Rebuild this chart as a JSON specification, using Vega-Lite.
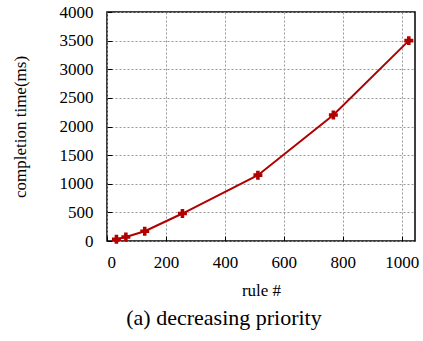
{
  "$schema": "https://vega.github.io/schema/vega-lite/v6.json",
  "autosize": "none",
  "width": 308,
  "height": 229,
  "padding": {"left": 107, "top": 12, "right": 8, "bottom": 100},
  "background": "white",
  "title": {"text": "(a) decreasing priority", "orient": "bottom", "anchor": "middle", "frame": "group", "dx": -37, "font": "Times New Roman, Liberation Serif, serif", "fontSize": 22, "fontWeight": "normal", "color": "black", "offset": 10},
  "config": {
    "view": {"stroke": "black", "strokeWidth": 1.5},
    "axis": {
      "labelFont": "Times New Roman, Liberation Serif, serif", "labelFontSize": 17, "labelColor": "black",
      "titleFont": "Times New Roman, Liberation Serif, serif", "titleFontSize": 17, "titleFontWeight": "normal", "titleColor": "black",
      "grid": true, "gridColor": "#999", "gridDash": [2, 2], "gridWidth": 1,
      "domain": false, "tickColor": "black", "tickSize": -5, "format": "d"
    }
  },
  "data": {"values": [
    {"rules": 32, "time": 30},
    {"rules": 64, "time": 70},
    {"rules": 128, "time": 170},
    {"rules": 256, "time": 480},
    {"rules": 512, "time": 1150},
    {"rules": 768, "time": 2200},
    {"rules": 1024, "time": 3500}
  ]},
  "encoding": {
    "x": {"field": "rules", "type": "quantitative", "scale": {"domain": [0, 1045], "nice": false, "zero": false}, "axis": {"values": [0, 200, 400, 600, 800, 1000], "title": "rule #", "labelPadding": 18, "titlePadding": 12}},
    "y": {"field": "time", "type": "quantitative", "scale": {"domain": [0, 4000], "nice": false}, "axis": {"values": [0, 500, 1000, 1500, 2000, 2500, 3000, 3500, 4000], "title": "completion time(ms)", "labelPadding": 19, "titlePadding": 30}}
  },
  "layer": [
    {"mark": {"type": "line", "color": "#b00000", "strokeWidth": 2}},
    {"mark": {"type": "point", "shape": "cross", "filled": true, "color": "#b00000", "size": 80, "opacity": 1}}
  ]
}
